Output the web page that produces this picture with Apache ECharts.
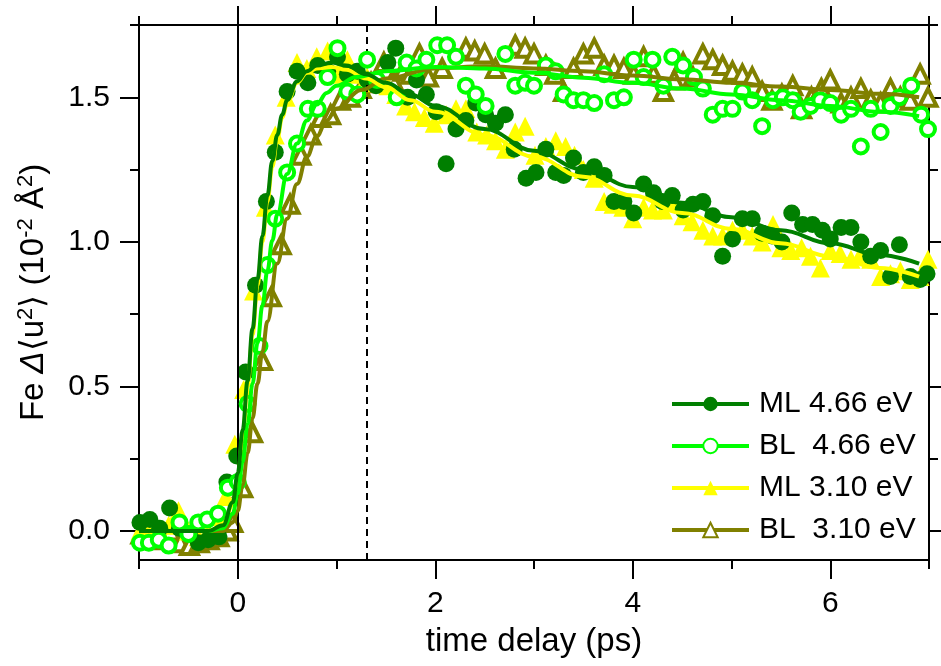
<!DOCTYPE html>
<html><head><meta charset="utf-8">
<script src="https://cdn.jsdelivr.net/npm/echarts@6/dist/echarts.min.js"></script>
<style>html,body{margin:0;padding:0;background:#fff}#c{width:941px;height:666px}</style>
</head><body><div id="c"></div>
<script>
// ---- data (time delay ps, Fe Δ<u²> in 10^-2 Å^2) ----
const seriesNames = ['ML 4.66 eV', 'BL  4.66 eV', 'ML 3.10 eV', 'BL  3.10 eV'];
const xMajor = [0, 2, 4, 6];
const xMinor = [-1, 1, 3, 5, 7];
const yMajor = [0, 0.5, 1.0, 1.5];
const yMinor = [0.25, 0.75, 1.25, 1.75];
const timeZero = 0;
const dashedMark = 1.31;

const mlHigh = [[-0.99,0.03],[-0.89,0.04],[-0.79,0.01],[-0.69,0.08],[-0.59,0.01],[-0.49,-0.01],[-0.40,-0.04],[-0.30,-0.03],[-0.19,-0.02],[-0.11,0.17],[-0.01,0.26],[0.08,0.55],[0.18,0.85],[0.29,1.14],[0.38,1.31],[0.50,1.52],[0.60,1.59],[0.71,1.55],[0.81,1.61],[0.91,1.59],[1.01,1.64],[1.11,1.58],[1.21,1.59],[1.31,1.56],[1.40,1.54],[1.52,1.62],[1.60,1.67],[1.72,1.50],[1.81,1.56],[1.91,1.51],[2.01,1.45],[2.11,1.27],[2.21,1.39],[2.31,1.42],[2.41,1.48],[2.51,1.44],[2.61,1.41],[2.71,1.44],[2.80,1.32],[2.92,1.22],[3.02,1.24],[3.12,1.32],[3.22,1.24],[3.30,1.23],[3.40,1.29],[3.50,1.24],[3.61,1.26],[3.71,1.23],[3.81,1.14],[3.91,1.14],[4.01,1.10],[4.11,1.20],[4.21,1.17],[4.30,1.14],[4.40,1.16],[4.51,1.11],[4.61,1.13],[4.71,1.14],[4.81,1.09],[4.91,0.95],[5.01,1.01],[5.11,1.08],[5.21,1.08],[5.31,1.03],[5.41,1.02],[5.51,1.00],[5.61,1.10],[5.72,1.06],[5.82,1.06],[5.92,1.04],[6.00,1.01],[6.11,1.05],[6.21,1.05],[6.31,1.00],[6.41,0.95],[6.51,0.97],[6.61,0.88],[6.70,0.99],[6.81,0.88],[6.91,0.87],[6.98,0.89]];

const blHigh = [[-0.99,-0.04],[-0.90,-0.04],[-0.80,-0.03],[-0.70,-0.05],[-0.59,0.03],[-0.50,-0.01],[-0.40,0.03],[-0.31,0.04],[-0.20,0.06],[-0.10,0.15],[0.00,0.17],[0.10,0.44],[0.22,0.64],[0.30,0.92],[0.38,1.08],[0.50,1.24],[0.60,1.34],[0.71,1.46],[0.81,1.46],[0.91,1.57],[1.01,1.67],[1.11,1.52],[1.21,1.51],[1.31,1.63],[1.41,1.56],[1.61,1.50],[1.71,1.62],[1.81,1.60],[1.91,1.63],[2.02,1.68],[2.12,1.68],[2.21,1.64],[2.31,1.54],[2.41,1.51],[2.51,1.47],[2.71,1.65],[2.81,1.54],[2.91,1.55],[3.00,1.54],[3.12,1.61],[3.22,1.59],[3.30,1.51],[3.40,1.49],[3.50,1.49],[3.61,1.48],[3.71,1.58],[3.81,1.49],[3.91,1.50],[4.01,1.63],[4.11,1.57],[4.20,1.63],[4.31,1.54],[4.40,1.64],[4.51,1.61],[4.62,1.57],[4.71,1.53],[4.81,1.44],[4.91,1.46],[5.01,1.46],[5.11,1.52],[5.21,1.49],[5.31,1.40],[5.42,1.49],[5.52,1.50],[5.62,1.49],[5.70,1.45],[5.80,1.47],[5.90,1.49],[6.00,1.48],[6.11,1.44],[6.21,1.46],[6.31,1.33],[6.41,1.46],[6.51,1.38],[6.61,1.47],[6.70,1.50],[6.82,1.54],[6.92,1.44],[6.99,1.39]];

const mlLow = [[-0.99,0.00],[-0.89,0.02],[-0.79,0.00],[-0.70,0.02],[-0.60,0.07],[-0.50,0.00],[-0.40,-0.02],[-0.30,0.00],[-0.20,0.05],[-0.12,0.12],[-0.03,0.30],[0.06,0.49],[0.16,0.83],[0.28,1.12],[0.38,1.37],[0.49,1.50],[0.60,1.62],[0.70,1.60],[0.80,1.64],[0.91,1.66],[1.01,1.58],[1.11,1.63],[1.21,1.58],[1.31,1.57],[1.41,1.55],[1.52,1.54],[1.60,1.51],[1.70,1.47],[1.79,1.45],[1.89,1.43],[1.99,1.41],[2.11,1.44],[2.21,1.46],[2.31,1.46],[2.42,1.38],[2.52,1.37],[2.61,1.35],[2.71,1.32],[2.81,1.38],[2.91,1.40],[3.01,1.30],[3.12,1.33],[3.22,1.35],[3.32,1.33],[3.41,1.30],[3.50,1.25],[3.61,1.22],[3.71,1.14],[3.80,1.13],[3.90,1.12],[4.00,1.08],[4.11,1.12],[4.20,1.11],[4.31,1.11],[4.41,1.14],[4.51,1.09],[4.60,1.07],[4.71,1.04],[4.81,1.02],[4.91,1.02],[5.01,1.04],[5.11,1.04],[5.21,1.02],[5.31,1.00],[5.42,1.06],[5.50,0.98],[5.60,0.97],[5.71,0.98],[5.80,0.95],[5.90,0.91],[6.00,0.97],[6.10,0.96],[6.21,0.94],[6.31,0.96],[6.41,0.94],[6.51,0.88],[6.61,0.89],[6.71,0.90],[6.81,0.87],[6.91,0.88],[6.99,0.94]];

const blLow = [[-0.98,-0.01],[-0.88,-0.03],[-0.78,-0.02],[-0.68,0.00],[-0.58,-0.04],[-0.49,-0.05],[-0.39,-0.04],[-0.29,-0.03],[-0.19,-0.02],[-0.10,0.00],[-0.05,0.03],[0.05,0.15],[0.15,0.34],[0.25,0.59],[0.34,0.81],[0.44,0.99],[0.53,1.13],[0.64,1.30],[0.74,1.37],[0.84,1.43],[0.94,1.44],[1.04,1.49],[1.14,1.50],[1.25,1.53],[1.35,1.55],[1.48,1.62],[1.57,1.56],[1.67,1.59],[1.75,1.58],[1.84,1.65],[1.93,1.57],[2.07,1.60],[2.31,1.67],[2.40,1.66],[2.50,1.65],[2.61,1.60],[2.81,1.68],[2.91,1.67],[3.00,1.65],[3.12,1.61],[3.21,1.58],[3.30,1.52],[3.40,1.60],[3.50,1.65],[3.61,1.67],[3.71,1.61],[3.81,1.61],[3.91,1.60],[4.01,1.58],[4.11,1.64],[4.21,1.58],[4.31,1.52],[4.42,1.56],[4.51,1.62],[4.61,1.57],[4.71,1.65],[4.81,1.63],[4.91,1.61],[5.01,1.59],[5.11,1.58],[5.21,1.57],[5.31,1.52],[5.41,1.49],[5.51,1.51],[5.62,1.54],[5.71,1.46],[5.81,1.50],[5.91,1.53],[6.00,1.56],[6.11,1.48],[6.21,1.50],[6.31,1.53],[6.41,1.49],[6.51,1.48],[6.61,1.53],[6.71,1.50],[6.81,1.49],[6.91,1.58],[6.99,1.50]];

// fitted curves
const mlHighFit = [[-1.0,0.00],[-0.3,0.00],[-0.15,0.02],[-0.05,0.10],[0.0,0.20],[0.05,0.35],[0.1,0.52],[0.15,0.70],[0.2,0.87],[0.25,1.02],[0.3,1.16],[0.35,1.28],[0.4,1.37],[0.45,1.44],[0.5,1.49],[0.6,1.555],[0.7,1.59],[0.8,1.61],[0.95,1.62],[1.1,1.61],[1.3,1.58],[1.5,1.55],[1.75,1.51],[2.0,1.47],[2.5,1.39],[3.0,1.315],[3.5,1.25],[4.0,1.19],[4.5,1.135],[5.0,1.085],[5.5,1.04],[6.0,0.995],[6.5,0.955],[6.9,0.925]];
const blHighFit = [[-1.0,0.00],[-0.3,0.00],[-0.15,0.01],[-0.05,0.06],[0.0,0.13],[0.05,0.24],[0.1,0.37],[0.15,0.51],[0.2,0.65],[0.25,0.78],[0.3,0.90],[0.35,1.005],[0.4,1.095],[0.5,1.235],[0.6,1.34],[0.7,1.42],[0.8,1.475],[0.9,1.515],[1.0,1.54],[1.2,1.57],[1.5,1.59],[2.0,1.605],[2.5,1.60],[3.0,1.585],[3.5,1.568],[4.0,1.55],[4.5,1.53],[5.0,1.51],[5.5,1.49],[6.0,1.47],[6.5,1.45],[6.9,1.435]];
const mlLowFit = [[-1.0,0.00],[-0.3,0.00],[-0.15,0.02],[-0.05,0.09],[0.0,0.18],[0.05,0.33],[0.1,0.50],[0.15,0.68],[0.2,0.85],[0.25,1.00],[0.3,1.14],[0.35,1.26],[0.4,1.355],[0.45,1.43],[0.5,1.48],[0.6,1.55],[0.7,1.585],[0.8,1.60],[0.95,1.605],[1.1,1.595],[1.3,1.565],[1.5,1.535],[1.75,1.49],[2.0,1.45],[2.5,1.37],[3.0,1.295],[3.5,1.225],[4.0,1.16],[4.5,1.10],[5.0,1.045],[5.5,0.995],[6.0,0.95],[6.5,0.91],[6.9,0.88]];
const blLowFit = [[-1.0,0.00],[-0.3,0.00],[-0.15,0.00],[-0.05,0.03],[0.0,0.07],[0.05,0.16],[0.1,0.27],[0.15,0.39],[0.2,0.51],[0.25,0.62],[0.3,0.725],[0.4,0.925],[0.5,1.08],[0.6,1.20],[0.7,1.295],[0.8,1.365],[0.9,1.42],[1.0,1.46],[1.25,1.525],[1.5,1.565],[2.0,1.60],[2.5,1.607],[3.0,1.60],[3.5,1.59],[4.0,1.575],[4.5,1.562],[5.0,1.55],[5.5,1.537],[6.0,1.525],[6.5,1.512],[6.9,1.50]];

// ---- styling ----
const FONT = 'Liberation Sans, Arial, sans-serif';
const C = { mlHigh: '#007f00', blHigh: '#00ff00', mlLow: '#ffff00', blLow: '#808000' };

function xAx(pos, vals, len, labels) {
  return {
    type: 'value', min: -1, max: 7, position: pos, gridIndex: 0,
    axisLine: { show: true, onZero: false, lineStyle: { color: '#000', width: 2 } },
    axisTick: { show: true, customValues: vals, length: len, inside: false, lineStyle: { color: '#000', width: 2 } },
    axisLabel: labels ? { show: true, customValues: vals, margin: 29, color: '#000', fontSize: 30, fontFamily: FONT, formatter: v => String(v) } : { show: false },
    splitLine: { show: false },
    name: labels ? 'time delay (ps)' : '',
    nameLocation: 'middle', nameGap: 65,
    nameTextStyle: { fontSize: 33, fontFamily: FONT, color: '#000' }
  };
}
function yAx(pos, vals, len, labels) {
  return {
    type: 'value', min: -0.1, max: 1.75, position: pos, gridIndex: 0,
    axisLine: { show: true, onZero: false, lineStyle: { color: '#000', width: 2 } },
    axisTick: { show: true, customValues: vals, length: len, inside: false, lineStyle: { color: '#000', width: 2 } },
    axisLabel: labels ? { show: true, customValues: vals, margin: 29, color: '#000', fontSize: 30, fontFamily: FONT, formatter: v => v.toFixed(1) } : { show: false },
    splitLine: { show: false },
    name: labels ? '{n|Fe }{d|Δ}{n|⟨u}{s|2}{n|⟩ (10}{s|-2}{n| Å}{s|2}{n|)}' : '',
    nameLocation: 'middle', nameGap: 86, nameRotate: 90,
    nameTextStyle: {
      fontFamily: FONT, color: '#000',
      rich: {
        n: { fontSize: 33, fontFamily: FONT, color: '#000', lineHeight: 38 },
        d: { fontSize: 33, fontFamily: FONT, color: '#000', fontStyle: 'italic', lineHeight: 38 },
        s: { fontSize: 22, fontFamily: FONT, color: '#000', verticalAlign: 'top', lineHeight: 20 }
      }
    }
  };
}

// open markers: white fill with a thick coloured outline
function scatter(name, data, symbol, color, size, z, open) {
  return {
    type: 'scatter', name: name, data: data, symbol: symbol, symbolSize: size, z: z,
    itemStyle: open ? { color: '#fff', borderColor: color, borderWidth: 4, opacity: 1 }
                    : { color: color, borderWidth: 0, opacity: 1 },
    emphasis: { disabled: true }, silent: true, clip: false
  };
}
function fit(name, data, symbol, color, z, open) {
  return {
    type: 'line', name: name, data: data, symbol: symbol, showSymbol: false, smooth: 0.4, smoothMonotone: 'x', z: z,
    lineStyle: { color: color, width: 4 },
    itemStyle: open ? { color: '#fff', borderColor: color, borderWidth: 3 } : { color: color },
    emphasis: { disabled: true }, silent: true
  };
}

const chart = echarts.init(document.getElementById('c'), null, { renderer: 'canvas' });
chart.setOption({
  backgroundColor: '#fff',
  animation: false,
  grid: { left: 139, right: 12, top: 25, bottom: 106, containLabel: false, outerBoundsMode: 'none' },
  xAxis: [xAx('bottom', xMajor, 19, true), xAx('bottom', xMinor, 9, false), xAx('top', xMajor, 19, false), xAx('top', xMinor, 9, false)],
  yAxis: [yAx('left', yMajor, 19, true), yAx('left', yMinor, 9, false), yAx('right', yMajor, 19, false), yAx('right', yMinor, 9, false)],
  legend: {
    data: seriesNames, orient: 'vertical', left: 670, top: 389, padding: 0,
    itemWidth: 77, itemHeight: 18, itemGap: 12,
    textStyle: { fontSize: 30, fontFamily: FONT, color: '#000', padding: [0, 0, 0, 5] },
    lineStyle: { width: 4 }, selectedMode: false
  },
  series: [
    Object.assign(scatter('pts ' + seriesNames[3], blLow, 'triangle', C.blLow, 17, 2, true), {
      markLine: {
        silent: true, symbol: 'none', label: { show: false },
        data: [
          { xAxis: timeZero, lineStyle: { color: '#000', width: 2, type: 'solid' } },
          { xAxis: dashedMark, lineStyle: { color: '#000', width: 2, type: [7, 5] } }
        ]
      }
    }),
    scatter('pts ' + seriesNames[2], mlLow, 'triangle', C.mlLow, 19, 3, false),
    scatter('pts ' + seriesNames[0], mlHigh, 'circle', C.mlHigh, 17, 4, false),
    scatter('pts ' + seriesNames[1], blHigh, 'circle', C.blHigh, 14, 5, true),
    fit(seriesNames[3], blLowFit, 'triangle', C.blLow, 6, true),
    fit(seriesNames[2], mlLowFit, 'triangle', C.mlLow, 7, false),
    fit(seriesNames[1], blHighFit, 'circle', C.blHigh, 8, true),
    fit(seriesNames[0], mlHighFit, 'circle', C.mlHigh, 9, false)
  ]
});
</script></body></html>
